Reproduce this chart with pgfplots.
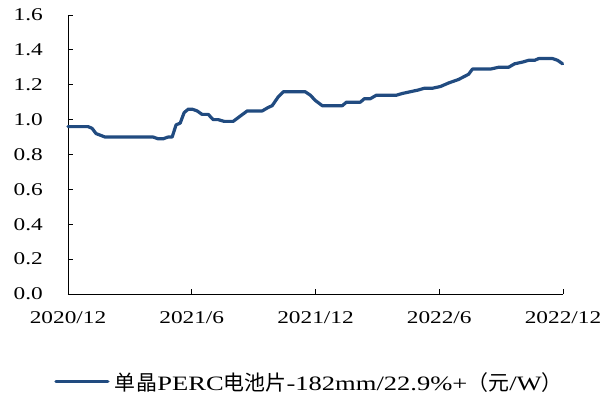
\documentclass[border=0pt]{standalone}
\usepackage{fontspec}
\setmainfont{Liberation Serif}[FakeStretch=1.3]
\newfontfamily\cjk{Noto Sans CJK SC}
\usepackage{pgfplots}
\pgfplotsset{compat=1.18}
\definecolor{lineblue}{RGB}{33,75,128}
\begin{document}
\begin{tikzpicture}
\useasboundingbox (-68bp,-106bp) rectangle (536bp,294bp);
\begin{axis}[
  at={(0,0)}, anchor=south west,
  scale only axis, width=495bp, height=279bp,
  xmin=0, xmax=24, ymin=0, ymax=1.6,
  axis lines=left, axis line style={-, black, line width=0.8bp},
  tick align=inside, major tick length=5bp,
  tick style={black, line width=0.8bp},
  xtick={0,6,12,18,24},
  xticklabels={2020/12,2021/6,2021/12,2022/6,2022/12},
  ytick={0,0.2,...,1.6},
  /pgf/number format/.cd, fixed, fixed zerofill, precision=1, assume math mode=true,
  /pgfplots/.cd,
  tick label style={font=\fontsize{18}{18}\selectfont, black},
  yticklabel style={inner sep=0pt, anchor=east, xshift=-25bp},
  xticklabel style={inner sep=0pt, anchor=north, yshift=-17bp},
  clip=false,
  legend style={at={(axis description cs:-0.028,-0.315)}, anchor=west, draw=none, fill=none,
    inner sep=0pt, font=\fontsize{20.5}{20.5}\selectfont,
    legend cell align=left},
  legend image code/.code={\draw[#1] (0bp,0bp) -- (52bp,0bp);},
]
\addplot[lineblue, line width=3.2bp, line join=round, line cap=round] coordinates {
(0,0.96) (0.97,0.96) (1.17,0.95) (1.36,0.92) (1.80,0.90) (4.13,0.90) (4.37,0.89)
(4.61,0.89) (4.85,0.90) (5.05,0.90) (5.24,0.97) (5.44,0.98) (5.63,1.04) (5.83,1.06)
(6.02,1.06) (6.26,1.05) (6.50,1.03) (6.80,1.03) (7.04,1.00) (7.28,1.00) (7.57,0.99)
(8.01,0.99) (8.35,1.02) (8.69,1.05) (9.42,1.05) (9.71,1.07) (9.90,1.08) (10.19,1.13)
(10.44,1.16) (11.50,1.16) (11.75,1.14) (11.99,1.11) (12.33,1.08) (13.30,1.08)
(13.50,1.10) (14.17,1.10) (14.37,1.12) (14.66,1.12) (14.95,1.14) (15.92,1.14)
(16.21,1.15) (16.60,1.16) (16.99,1.17) (17.28,1.18) (17.67,1.18) (18.06,1.19)
(18.45,1.21) (18.93,1.23) (19.42,1.26) (19.61,1.29) (20.49,1.29) (20.87,1.30)
(21.36,1.30) (21.65,1.32) (22.04,1.33) (22.33,1.34) (22.62,1.34) (22.82,1.35)
(23.50,1.35) (23.74,1.34) (23.98,1.32)
};
\addlegendentry{\hspace{3bp}{\cjk\fontsize{21}{21}\selectfont 单\hspace{1bp}晶}PERC{\cjk\fontsize{21}{21}\selectfont 电池片}-182mm/22.9\%+{\cjk\fontsize{21}{21}\selectfont （元}/W{\cjk\fontsize{21}{21}\selectfont ）}}
\end{axis}
\end{tikzpicture}
\end{document}
